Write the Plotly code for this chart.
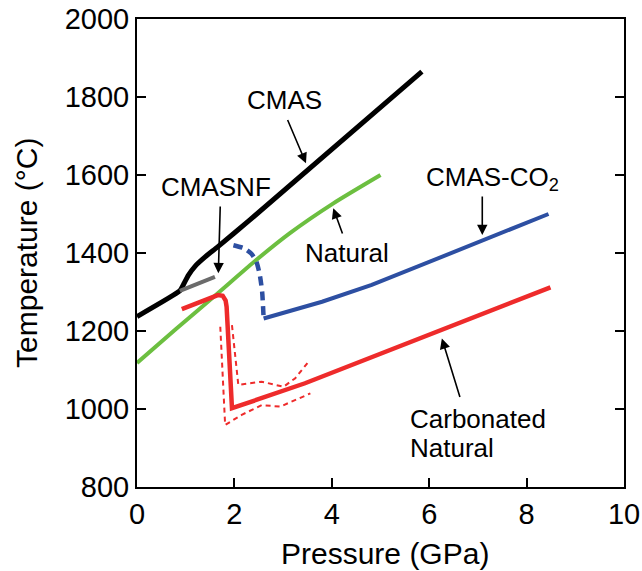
import plotly.graph_objects as go

# ---- data (pressure GPa, temperature °C) ----
cmas_p = [0.0, 0.88, 0.95, 1.05, 1.2, 1.4, 1.65, 2.3, 5.85]
cmas_t = [1237, 1303, 1318, 1342, 1367, 1390, 1415, 1483, 1865]

cmasnf_p = [0.88, 1.60]
cmasnf_t = [1303, 1339]

natural_p = [0.0, 0.8, 1.66, 2.4, 3.14, 4.04, 5.0]
natural_t = [1118, 1205, 1297, 1377, 1451, 1528, 1600]

co2_dash_p = [1.98, 2.2, 2.35, 2.45, 2.52, 2.57, 2.6]
co2_dash_t = [1420, 1412, 1398, 1378, 1345, 1300, 1232]

co2_p = [2.6, 3.8, 4.82, 8.45]
co2_t = [1232, 1275, 1318, 1500]

carb_p = [0.92, 1.66, 1.76, 1.82, 1.84, 1.95, 3.45, 8.49]
carb_t = [1256, 1292, 1290, 1278, 1262, 1002, 1066, 1312]

carb_lo_p = [1.71, 1.81, 2.15, 2.56, 2.94, 3.25, 3.56]
carb_lo_t = [1211, 959, 985, 1010, 1006, 1023, 1040]

carb_hi_p = [1.95, 2.08, 2.56, 3.01, 3.25, 3.52]
carb_hi_t = [1215, 1062, 1070, 1057, 1079, 1121]

x_ticks = [0, 2, 4, 6, 8, 10]
y_ticks = [800, 1000, 1200, 1400, 1600, 1800, 2000]

FONT = "Liberation Sans, Arial, Helvetica, sans-serif"
BLACK = "#000000"
GREY = "#6b6b6b"
GREEN = "#6cbf40"
BLUE = "#2d4fa2"
RED = "#ee2b2b"

fig = go.Figure()
fig.add_trace(go.Scatter(x=natural_p, y=natural_t, mode="lines",
                         line=dict(color=GREEN, width=4, shape="spline", smoothing=0.6)))
fig.add_trace(go.Scatter(x=cmas_p, y=cmas_t, mode="lines",
                         line=dict(color=BLACK, width=5, shape="spline", smoothing=0.4)))
fig.add_trace(go.Scatter(x=cmasnf_p, y=cmasnf_t, mode="lines",
                         line=dict(color=GREY, width=4)))
fig.add_trace(go.Scatter(x=co2_dash_p, y=co2_dash_t, mode="lines",
                         line=dict(color=BLUE, width=4.5, dash="9px,6px", shape="spline", smoothing=0.6)))
fig.add_trace(go.Scatter(x=co2_p, y=co2_t, mode="lines",
                         line=dict(color=BLUE, width=4)))
fig.add_trace(go.Scatter(x=carb_lo_p, y=carb_lo_t, mode="lines",
                         line=dict(color=RED, width=2, dash="5px,4px")))
fig.add_trace(go.Scatter(x=carb_hi_p, y=carb_hi_t, mode="lines",
                         line=dict(color=RED, width=2, dash="5px,4px")))
fig.add_trace(go.Scatter(x=carb_p, y=carb_t, mode="lines",
                         line=dict(color=RED, width=4.5)))

labels = [
    ("CMAS", 3.02, 1793, "center"),
    ("CMASNF", 1.62, 1568, "center"),
    ("Natural", 4.31, 1401, "center"),
    ("CMAS-CO<sub>2</sub>", 7.29, 1590, "center"),
    ("Carbonated", 5.57, 975, "left"),
    ("Natural", 5.57, 900, "left"),
]
ann = []
for txt, x, y, anchor in labels:
    ann.append(dict(text=txt, x=x, y=y, xref="x", yref="y", showarrow=False,
                    xanchor=anchor, yanchor="middle",
                    font=dict(family=FONT, size=26, color=BLACK)))

arrows = [
    # head (x, y), tail (ax, ay)
    (3.47, 1630, 3.08, 1745),
    (1.67, 1348, 1.71, 1523),
    (4.03, 1515, 4.23, 1446),
    (7.09, 1446, 7.09, 1549),
    (6.26, 1181, 6.64, 1027),
]
for x, y, ax, ay in arrows:
    ann.append(dict(text="", x=x, y=y, ax=ax, ay=ay, xref="x", yref="y",
                    axref="x", ayref="y", showarrow=True, arrowhead=2,
                    arrowsize=1.3, arrowwidth=1.6, arrowcolor=BLACK))

# axis titles
ann.append(dict(text="Pressure (GPa)", x=0.51, y=-0.143, xref="paper", yref="paper",
                showarrow=False, xanchor="center", yanchor="middle",
                font=dict(family=FONT, size=30, color=BLACK)))
ann.append(dict(text="Temperature (°C)", x=-0.228, y=0.5, xref="paper", yref="paper",
                showarrow=False, xanchor="center", yanchor="middle", textangle=-90,
                font=dict(family=FONT, size=30, color=BLACK)))

fig.update_layout(
    width=642, height=571,
    margin=dict(l=137, r=18, t=19, b=84),
    plot_bgcolor="white", paper_bgcolor="white",
    showlegend=False,
    font=dict(family=FONT, color=BLACK),
    annotations=ann,
)
fig.update_xaxes(range=[0, 10], tickvals=x_ticks, ticktext=[str(v) for v in x_ticks],
                 ticks="inside", ticklen=9, tickwidth=1.5, tickcolor=BLACK,
                 showline=True, linecolor=BLACK, linewidth=2, mirror=True,
                 showgrid=False, zeroline=False, automargin=False,
                 tickfont=dict(family=FONT, size=29, color=BLACK))
fig.update_yaxes(range=[800, 2000], tickvals=y_ticks, ticktext=[str(v) for v in y_ticks],
                 ticks="inside", ticklen=9, tickwidth=1.5, tickcolor=BLACK,
                 showline=True, linecolor=BLACK, linewidth=2, mirror="ticks",
                 showgrid=False, zeroline=False, automargin=False,
                 tickfont=dict(family=FONT, size=29, color=BLACK))

fig.write_html("out.html", config={"displayModeBar": False},
               post_script="document.body.style.margin='0';document.body.style.overflow='hidden';")
